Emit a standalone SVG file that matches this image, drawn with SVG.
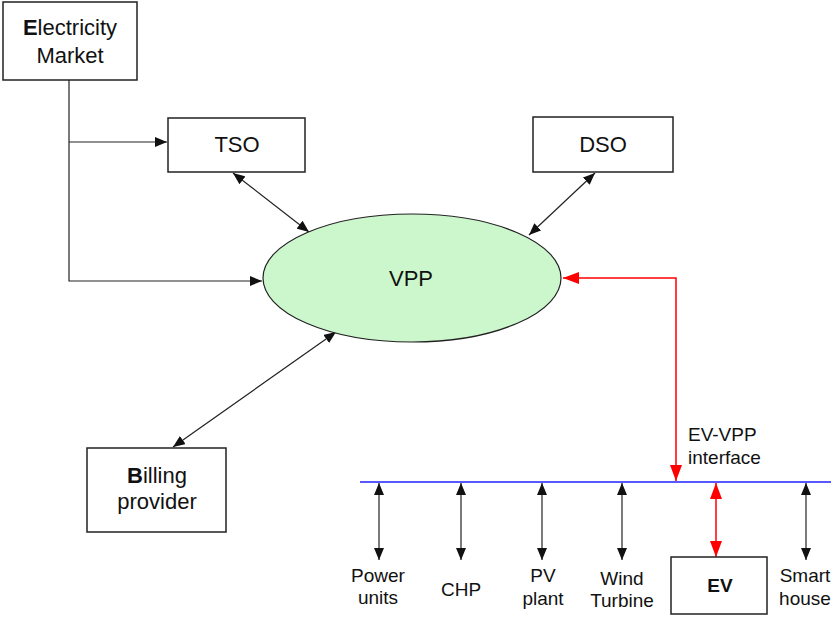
<svg xmlns="http://www.w3.org/2000/svg" width="835" height="619" viewBox="0 0 835 619">
<style>
.box{fill:#fff;stroke:#222;stroke-width:1.5}
.t{font-family:"Liberation Sans",Arial,sans-serif;font-size:22px;fill:#111;text-anchor:middle}
.s{font-family:"Liberation Sans",Arial,sans-serif;font-size:19px;fill:#111;text-anchor:middle}
.st{text-anchor:start}
.ln{fill:none;stroke:#222;stroke-width:1.2}
.red{fill:none;stroke:#f00;stroke-width:1.5}
</style>
<defs>
<marker id="ah" viewBox="0 0 12 10" refX="12" refY="5" markerWidth="12" markerHeight="10" markerUnits="userSpaceOnUse" orient="auto-start-reverse">
<path d="M0,0 L12,5 L0,10 Z" fill="#111"/>
</marker>
<marker id="ahr" viewBox="0 0 16 12" refX="16" refY="6" markerWidth="16" markerHeight="12" markerUnits="userSpaceOnUse" orient="auto-start-reverse">
<path d="M0,0 L16,6 L0,12 Z" fill="#f00"/>
</marker>
</defs>
<g id="connectors">
<path class="ln" d="M69,80 V281 H262" marker-end="url(#ah)"/>
<path class="ln" d="M69,142 H167" marker-end="url(#ah)"/>
<path class="ln" d="M233,173 L309,232" marker-start="url(#ah)" marker-end="url(#ah)"/>
<path class="ln" d="M595,173 L529,235" marker-start="url(#ah)" marker-end="url(#ah)"/>
<path class="ln" d="M336,332 L173,447" marker-start="url(#ah)" marker-end="url(#ah)"/>
<path class="red" d="M676,481 V278 H563" marker-start="url(#ahr)" marker-end="url(#ahr)"/>
<line x1="360" y1="482" x2="831" y2="482" stroke="#2020ff" stroke-width="1.5"/>
<path class="ln" d="M379,483 V560" marker-start="url(#ah)" marker-end="url(#ah)"/>
<path class="ln" d="M461,483 V560" marker-start="url(#ah)" marker-end="url(#ah)"/>
<path class="ln" d="M542,483 V560" marker-start="url(#ah)" marker-end="url(#ah)"/>
<path class="ln" d="M622,483 V560" marker-start="url(#ah)" marker-end="url(#ah)"/>
<path class="ln" d="M806,483 V560" marker-start="url(#ah)" marker-end="url(#ah)"/>
<path class="red" d="M716,483 V557" marker-start="url(#ahr)" marker-end="url(#ahr)"/>
</g>
<g id="electricity-market">
<rect class="box" x="3" y="2" width="134" height="78"/>
<text class="t" x="70" y="35" font-size="23"><tspan font-weight="bold">E</tspan>lectricity</text>
<text class="t" x="70" y="63">Market</text>
</g>
<g id="tso">
<rect class="box" x="168" y="118" width="137" height="54"/>
<text class="t" x="237" y="152">TSO</text>
</g>
<g id="dso">
<rect class="box" x="533" y="117" width="140" height="55"/>
<text class="t" x="603" y="152">DSO</text>
</g>
<g id="vpp">
<ellipse cx="412" cy="278" rx="149" ry="64" fill="#ccf7cc" stroke="#222" stroke-width="1.2"/>
<text class="t" x="411" y="286" font-size="23">VPP</text>
</g>
<g id="billing-provider">
<rect class="box" x="87" y="448" width="139" height="84"/>
<text class="t" x="157" y="483"><tspan font-weight="bold">B</tspan>illing</text>
<text class="t" x="157" y="509">provider</text>
</g>
<g id="ev-vpp-interface">
<text class="s st" x="688" y="441">EV-VPP</text>
<text class="s st" x="688" y="464">interface</text>
</g>
<g id="power-units">
<text class="s" x="378" y="582">Power</text>
<text class="s" x="378" y="604">units</text>
</g>
<g id="chp">
<text class="s" x="461" y="596">CHP</text>
</g>
<g id="pv-plant">
<text class="s" x="543" y="582">PV</text>
<text class="s" x="543" y="605">plant</text>
</g>
<g id="wind-turbine">
<text class="s" x="622" y="585">Wind</text>
<text class="s" x="622" y="607">Turbine</text>
</g>
<g id="ev">
<rect class="box" x="671" y="557" width="96" height="57"/>
<text class="s" x="720" y="592" font-weight="bold">EV</text>
</g>
<g id="smart-house">
<text class="s" x="805" y="582">Smart</text>
<text class="s" x="805" y="605">house</text>
</g>
</svg>
